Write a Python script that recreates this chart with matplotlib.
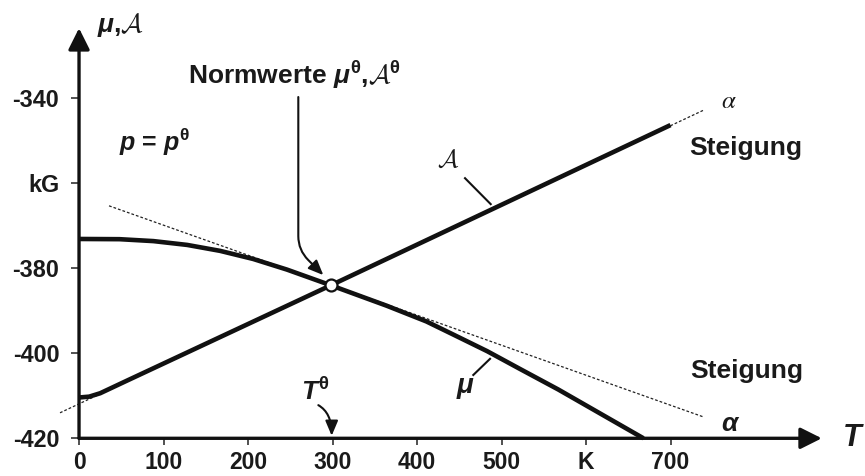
import matplotlib
matplotlib.use('Agg')
import matplotlib.pyplot as plt
from matplotlib.patches import ArrowStyle

plt.rcParams['font.family'] = ['Liberation Sans', 'DejaVu Sans']
plt.rcParams['font.weight'] = 'bold'
plt.rcParams['mathtext.fontset'] = 'custom'
plt.rcParams['mathtext.rm'] = 'Liberation Sans:bold'
plt.rcParams['mathtext.it'] = 'Liberation Sans:bold:italic'
plt.rcParams['mathtext.bf'] = 'Liberation Sans:bold'
plt.rcParams['mathtext.cal'] = 'cmsy10'

# ---- data ----
T_mu = [0, 48, 88, 128, 167, 206, 246, 298, 364, 411, 443, 483, 522, 567, 668]
mu_vals = [-373.1, -373.15, -373.6, -374.5, -375.9, -377.8, -380.3, -384.0,
           -388.8, -392.5, -395.6, -399.5, -403.7, -408.5, -420.0]

T_A = [0, 12, 25, 56, 298, 700]
A_vals = [-410.4, -410.2, -409.4, -406.5, -384.0, -346.3]

T_alpha_tangent = [-22.5, 739.6]
alpha_tangent_vals = [-414.0, -342.75]

T_mu_tangent = [35.5, 738.0]
mu_tangent_vals = [-365.3, -414.9]

T_std = 298
std_val = -384.0

x_ticks = [0, 100, 200, 300, 400, 500, 600, 700]
x_tick_labels = ['0', '100', '200', '300', '400', '500', 'K', '700']
y_ticks = [-420, -400, -380, -360, -340]
y_tick_labels = ['-420', '-400', '-380', 'kG', '-340']

x_axis_end = 879
y_axis_end = -323.5
x_origin = 0
y_origin = -420

STD = r'^{\mathrm{\theta}}'

# ---- figure ----
fig = plt.figure(figsize=(8.65, 4.76), dpi=100)
ax = fig.add_axes([0.06694, 0.03456, 0.9036, 0.9375])
ax.set_xlim(-25, 900)
ax.set_ylim(-425, -320)
ax.patch.set_visible(False)

for s in ['top', 'right']:
    ax.spines[s].set_visible(False)
ax.spines['left'].set_position(('data', x_origin))
ax.spines['bottom'].set_position(('data', y_origin))
ax.spines['left'].set_color('none')
ax.spines['bottom'].set_color('none')

ax.set_xticks(x_ticks, x_tick_labels)
ax.set_yticks(y_ticks, y_tick_labels)
ax.tick_params(axis='x', direction='out', length=5, width=1.1, pad=4.5,
               labelsize=16.5, color='#222222')
ax.tick_params(axis='y', direction='out', length=5.8, width=1.1, pad=8.4,
               labelsize=16.8, color='#222222')
for lab in ax.get_xticklabels() + ax.get_yticklabels():
    lab.set_fontweight('bold')
    lab.set_color('#1a1a1a')

axis_arrow = ArrowStyle('-|>', head_length=13, head_width=6.5)
ax.annotate('', xy=(x_origin, y_axis_end), xytext=(x_origin, y_origin),
            arrowprops=dict(arrowstyle=axis_arrow, lw=2.4, color='#111111',
                            shrinkA=0, shrinkB=0, mutation_scale=1),
            annotation_clip=False)
ax.annotate('', xy=(x_axis_end, y_origin), xytext=(x_origin, y_origin),
            arrowprops=dict(arrowstyle=axis_arrow, lw=2.4, color='#111111',
                            shrinkA=0, shrinkB=0, mutation_scale=1),
            annotation_clip=False)

# dotted tangents
ax.plot(T_alpha_tangent, alpha_tangent_vals, color='#222222', lw=0.9,
        ls=(0, (2.2, 1.6)), zorder=2)
ax.plot(T_mu_tangent, mu_tangent_vals, color='#222222', lw=0.9,
        ls=(0, (2.2, 1.6)), zorder=2)

# curves
ax.plot(T_A, A_vals, color='#111111', lw=3.3, solid_capstyle='butt', zorder=3)
ax.plot(T_mu, mu_vals, color='#111111', lw=3.3, solid_capstyle='butt', zorder=3)

# standard point
ax.plot([T_std], [std_val], 'o', ms=8.6, mfc='white', mec='#111111',
        mew=1.6, zorder=5)

small_arrow = ArrowStyle('-|>', head_length=9, head_width=3.8)
# Normwerte
ax.text(254.4, -334.5,
        r'Normwerte $\mu' + STD + r'$,$\mathcal{A}' + STD + r'$',
        fontsize=19, ha='center', va='center', color='#1a1a1a')
ax.annotate('', xy=(289.1, -381.6), xytext=(259.5, -339.7),
            arrowprops=dict(arrowstyle=small_arrow, lw=1.5, color='#111111',
                            connectionstyle='angle,angleA=90,angleB=-45,rad=14',
                            shrinkA=0, shrinkB=0, mutation_scale=1))

# T standard
ax.text(279.3, -408.9, r'$T' + STD + r'$', fontsize=19, ha='center',
        va='center', color='#1a1a1a')
ax.annotate('', xy=(299, -419.4), xytext=(283.2, -412.2),
            arrowprops=dict(arrowstyle=small_arrow, lw=1.5, color='#111111',
                            connectionstyle='angle3,angleA=-30,angleB=90',
                            shrinkA=0, shrinkB=0, mutation_scale=1))

# p = p standard
ax.text(90, -350.3, r'$p$ = $p' + STD + r'$', fontsize=18, ha='center',
        va='center', color='#1a1a1a')

# axis labels
ax.text(21.3, -322.7, r'$\mu$,$\mathcal{A}$', fontsize=19, ha='left',
        va='center', color='#1a1a1a')
ax.text(914.8, -419.9, 'T', fontsize=22, fontstyle='italic', ha='center',
        va='center', color='#1a1a1a')

# curve labels
ax.text(436.7, -354.5, r'$\mathcal{A}$', fontsize=18, ha='center',
        va='center', color='#1a1a1a')
ax.plot([456.8, 487.2], [-358.8, -364.9], color='#111111', lw=1.5)
ax.text(456.8, -408.2, r'$\mu$', fontsize=20, ha='center', va='center',
        color='#1a1a1a')
ax.plot([466.6, 486.4], [-405.1, -401.3], color='#111111', lw=1.5)

# slopes
ax.text(768, -340.9, 'α', family='STIXGeneral', fontstyle='italic',
        fontweight='normal', fontsize=18, ha='center', va='center',
        color='#1a1a1a')
ax.text(789.3, -351.7, 'Steigung', fontsize=19, ha='center', va='center',
        color='#1a1a1a')
ax.text(790.5, -404.2, 'Steigung', fontsize=19, ha='center', va='center',
        color='#1a1a1a')
ax.text(771.6, -416.6, r'$\alpha$', fontsize=19, ha='center', va='center',
        color='#1a1a1a')

fig.savefig('out.png', dpi=100)
